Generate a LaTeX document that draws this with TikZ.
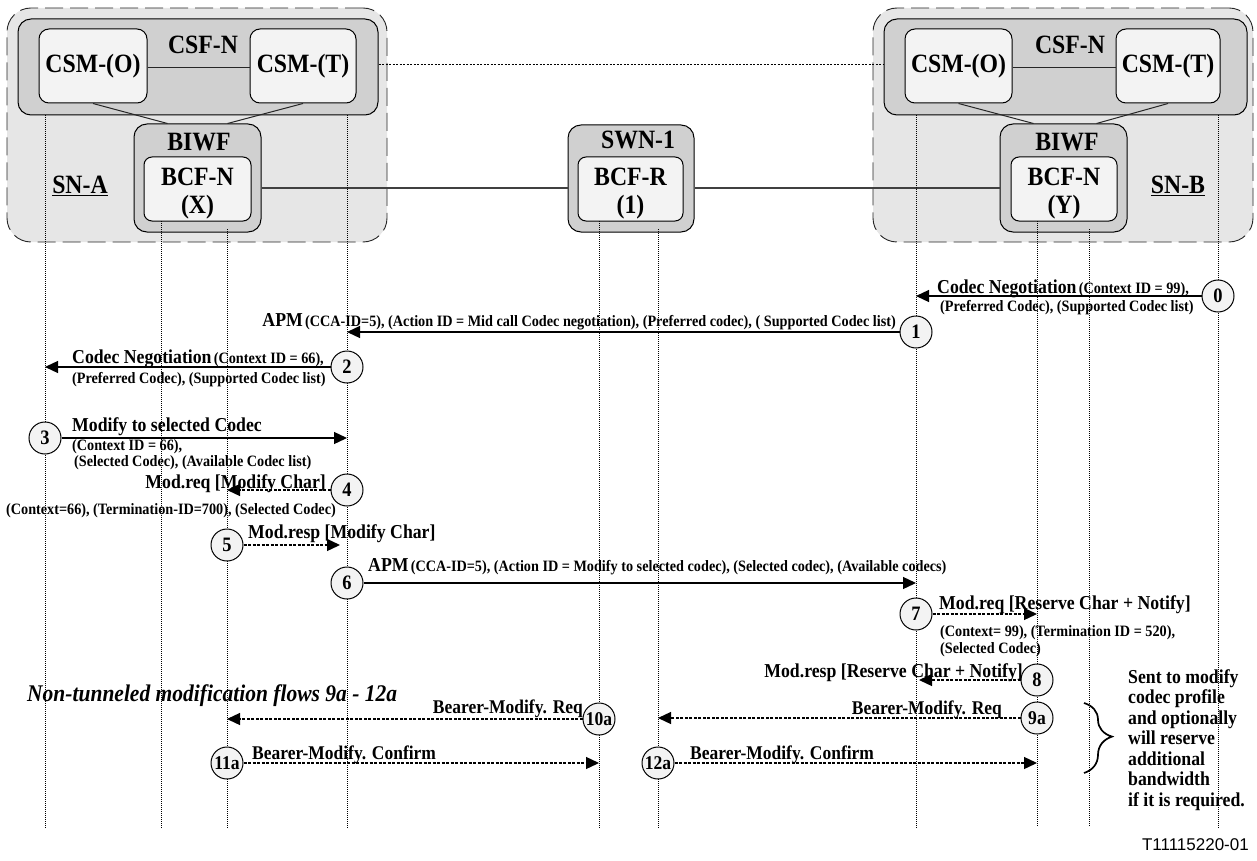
\documentclass[tikz,border=0pt]{standalone}
\usepackage{fontspec}
\setmainfont{Liberation Serif}[FakeStretch=0.9]
\setsansfont{Liberation Sans}
\usetikzlibrary{arrows.meta,decorations.pathreplacing,calc}
\definecolor{outerfill}{RGB}{230,230,230}
\definecolor{midfill}{RGB}{208,208,208}
\definecolor{innerfill}{RGB}{243,243,243}
\newcommand\myHead{\fontsize{26.4}{28}\selectfont\bfseries}
\newcommand\myBig{\fontsize{19.7}{20.5}\selectfont\bfseries}
\newcommand\mySm{\fontsize{15.8}{16}\selectfont\bfseries}
\newcommand\myBear{\fontsize{19.4}{20}\selectfont\bfseries}
\newcommand\myNum{\fontsize{20.5}{20}\selectfont\bfseries}
\newcommand\myNumS{\fontsize{19.5}{18}\selectfont\bfseries}
\tikzset{
  snbox/.style={draw=black!85, fill=outerfill, dash pattern=on 18pt off 7pt, rounded corners=24pt, line width=0.9pt},
  csfbox/.style={draw=black, fill=midfill, rounded corners=13pt, line width=1pt},
  inbox/.style={draw=black, fill=innerfill, rounded corners=10pt, line width=1pt},
  lifeline/.style={line width=0.8pt, dash pattern=on 1pt off 1pt},
  link/.style={line width=1pt, draw=black!85},
  blink/.style={line width=1.4pt, draw=black!75},
  dotlink/.style={line width=0.9pt, dash pattern=on 2pt off 1.5pt},
  msg/.style={line width=1.3pt, -{Triangle[length=13pt,width=12pt]}},
  dmsg/.style={msg, dash pattern=on 3pt off 1.5pt},
  num/.style={circle, draw, fill=innerfill, minimum size=32pt, inner sep=0pt, line width=1pt, font=\myNum},
  numS/.style={num, font=\myNumS},
  lbl/.style={inner sep=0pt}
}
\begin{document}
\begin{tikzpicture}[x=1pt,y=-1pt]
\useasboundingbox (0,0) rectangle (1257,861);
% ---------- SN-A ----------
\node[snbox, minimum width=380pt, minimum height=234pt] (snA) at (197,125) {};
\node[csfbox, minimum width=360pt, minimum height=96pt] (csfA) at (198,67) {};
\node[inbox, minimum width=108pt, minimum height=74pt, font=\myHead] (csmOA) at (93,66) {CSM-(O)};
\node[inbox, minimum width=106pt, minimum height=74pt, font=\myHead] (csmTA) at (303,66) {CSM-(T)};
\node[font=\myHead] (csfAl) at (203,45) {CSF-N};
\node[csfbox, minimum width=127pt, minimum height=108pt] (biwfA) at (197.5,178) {};
\node[inbox, rounded corners=8pt, minimum width=107pt, minimum height=64pt] (bcfX) at (197.5,189) {};
\node[font=\myHead] (biwfAl) at (199,142) {BIWF};
\node[font=\myHead, align=center] (bcfXl) at (197.5,194) {BCF-N\\(X)};
\node[font=\myHead] (snAl) at (80,186) {\underline{SN-A}};
\draw[link] (csmOA.east |- 0,68) -- (csmTA.west |- 0,68);
\draw[link] (csmOA.south) -- ([xshift=-30pt]biwfA.north);
\draw[link] (csmTA.south) -- ([xshift=30pt]biwfA.north);
% ---------- SWN-1 ----------
\node[csfbox, minimum width=126pt, minimum height=107pt] (swn) at (631,178.5) {};
\node[inbox, rounded corners=8pt, minimum width=105pt, minimum height=64pt] (bcfR) at (630.5,189) {};
\node[font=\myHead] (swnl) at (638,140) {SWN-1};
\node[font=\myHead, align=center] (bcfRl) at (630.5,194) {BCF-R\\(1)};
% ---------- SN-B ----------
\node[snbox, minimum width=380pt, minimum height=234pt] (snB) at (1063,125) {};
\node[csfbox, minimum width=363pt, minimum height=96pt] (csfB) at (1065.5,67) {};
\node[inbox, minimum width=107pt, minimum height=74pt, font=\myHead] (csmOB) at (958.5,66) {CSM-(O)};
\node[inbox, minimum width=104pt, minimum height=74pt, font=\myHead] (csmTB) at (1168,66) {CSM-(T)};
\node[font=\myHead] (csfBl) at (1070,45) {CSF-N};
\node[csfbox, minimum width=127pt, minimum height=108pt] (biwfB) at (1063.5,178) {};
\node[inbox, rounded corners=8pt, minimum width=106pt, minimum height=64pt] (bcfY) at (1064,189) {};
\node[font=\myHead] (biwfBl) at (1067,142) {BIWF};
\node[font=\myHead, align=center] (bcfYl) at (1064,194) {BCF-N\\(Y)};
\node[font=\myHead] (snBl) at (1178,186) {\underline{SN-B}};
\draw[link] (csmOB.east |- 0,68) -- (csmTB.west |- 0,68);
\draw[link] (csmOB.south) -- ([xshift=-30pt]biwfB.north);
\draw[link] (csmTB.south) -- ([xshift=33pt]biwfB.north);
% ---------- inter-node links ----------
\draw[dotlink] (csfA.east |- 0,64) -- (csfB.west |- 0,64);
\draw[blink] (biwfA.east |- 0,188) -- (swn.west |- 0,188);
\draw[blink] (swn.east |- 0,188) -- (biwfB.west |- 0,188);
% ---------- lifelines ----------
\coordinate (t1) at (45,115);   \coordinate (b1) at (45,828);
\coordinate (t2) at (161,221);  \coordinate (b2) at (161,828);
\coordinate (t3) at (227,229);  \coordinate (b3) at (227,828);
\coordinate (t4) at (347,115);  \coordinate (b4) at (347,828);
\coordinate (t5) at (599,221);  \coordinate (b5) at (599,828);
\coordinate (t6) at (658,229);  \coordinate (b6) at (658,828);
\coordinate (t7) at (916,115);  \coordinate (b7) at (916,828);
\coordinate (t8) at (1037,221); \coordinate (b8) at (1037,826);
\coordinate (t9) at (1089,229); \coordinate (b9) at (1089,826);
\coordinate (t10) at (1218,115);\coordinate (b10) at (1218,828);
\foreach \i in {1,...,10} { \draw[lifeline] (t\i) -- (b\i); }
% ---------- messages ----------
% 0
\node[num] (c0) at (1218,296) {0};
\draw[msg] (c0.west) -- (c0.west -| t7);
\node[lbl, anchor=base west] (m0a) at (937,293) {{\myBig Codec Negotiation} {\mySm (Context ID = 99),}};
\node[lbl, anchor=base west] (m0b) at (940,311) {\mySm (Preferred Codec), (Supported Codec list)};
% 1
\node[num] (c1) at (916,332) {1};
\draw[msg] (c1.west) -- (c1.west -| t4);
\node[lbl, anchor=base east] (m1) at (896,326) {{\myBig APM} {\mySm (CCA-ID=5), (Action ID = Mid call Codec negotiation), (Preferred codec), ( Supported Codec list)}};
% 2
\node[num] (c2) at (347,367) {2};
\draw[msg] (c2.west) -- (c2.west -| t1);
\node[lbl, anchor=base west] (m2a) at (72,363) {{\myBig Codec Negotiation} {\mySm (Context ID = 66),}};
\node[lbl, anchor=base west] (m2b) at (72,383) {\mySm (Preferred Codec), (Supported Codec list)};
% 3
\node[num] (c3) at (45,438) {3};
\draw[msg] (c3.east) -- (c3.east -| t4);
\node[lbl, anchor=base west] (m3a) at (72,431) {\myBig Modify to selected Codec};
\node[lbl, anchor=base west] (m3b) at (72,450) {\mySm (Context ID = 66),};
\node[lbl, anchor=base west] (m3c) at (74,466) {\mySm (Selected Codec), (Available Codec list)};
% 4
\node[num] (c4) at (347,490) {4};
\draw[dmsg] (c4.west) -- (c4.west -| t3);
\node[lbl, anchor=base east] (m4a) at (326,488) {\myBig Mod.req [Modify Char]};
\node[lbl, anchor=base east] (m4b) at (336,514) {\mySm (Context=66), (Termination-ID=700), (Selected Codec)};
% 5
\node[num] (c5) at (227,545) {5};
\draw[dmsg] (c5.east) -- ([xshift=-7pt]c5.east -| t4);
\node[lbl, anchor=base west] (m5) at (248,538) {\myBig Mod.resp [Modify Char]};
% 6
\node[num] (c6) at (347,583) {6};
\draw[msg] (c6.east) -- (c6.east -| t7);
\node[lbl, anchor=base west] (m6) at (368,571) {{\myBig APM} {\mySm (CCA-ID=5), (Action ID = Modify to selected codec), (Selected codec), (Available codecs)}};
% 7
\node[num] (c7) at (916,614) {7};
\draw[dmsg] (c7.east) -- (c7.east -| t8);
\node[lbl, anchor=base west] (m7a) at (939,609) {\myBig Mod.req [Reserve Char + Notify]};
\node[lbl, anchor=base west] (m7b) at (940,636) {\mySm (Context= 99), (Termination ID = 520),};
\node[lbl, anchor=base west] (m7c) at (940,653) {\mySm (Selected Codec)};
% 8
\node[num] (c8) at (1037,680) {8};
\draw[dmsg] (c8.west) -- ([xshift=3pt]c8.west -| t7);
\node[lbl, anchor=base east] (m8) at (1023,677) {\myBig Mod.resp [Reserve Char + Notify]};
% non-tunneled
\node[lbl, anchor=base west, font=\fontsize{23.9}{24}\selectfont\bfseries\itshape] (nt) at (27,701) {Non-tunneled modification flows 9a - 12a};
% 9a
\node[numS] (c9) at (1037,718) {9a};
\draw[dmsg] (c9.west) -- (c9.west -| t6);
\node[lbl, anchor=base east] (m9) at (1002,714) {\myBear Bearer-Modify. Req};
% 10a
\node[numS] (c10) at (599,719) {10a};
\draw[dmsg] (c10.west) -- (c10.west -| t3);
\node[lbl, anchor=base east] (m10) at (583,713) {\myBear Bearer-Modify. Req};
% 11a
\node[numS] (c11) at (227,763) {11a};
\draw[dmsg] (c11.east) -- (c11.east -| t5);
\node[lbl, anchor=base west] (m11) at (252,759) {\myBear Bearer-Modify. Confirm};
% 12a
\node[numS] (c12) at (658,763) {12a};
\draw[dmsg] (c12.east) -- (c12.east -| t8);
\node[lbl, anchor=base west] (m12) at (690,759) {\myBear Bearer-Modify. Confirm};
% brace and note
\coordinate (brT) at (1084,703);
\coordinate (brB) at (1084,773);
\draw[line width=1.7pt, decorate, decoration={brace, amplitude=28pt, aspect=0.48}] (brT) -- (brB);
\node[lbl, anchor=north west, align=left, font=\myBig] (note) at (1128,669) {Sent to modify\\codec profile\\and optionally\\will reserve\\additional\\bandwidth\\if it is required.};
% figure id
\node[lbl, anchor=east, font=\sffamily\fontsize{17}{20}\selectfont] (tid) at (1249,845) {T11115220-01};
\end{tikzpicture}
\end{document}
